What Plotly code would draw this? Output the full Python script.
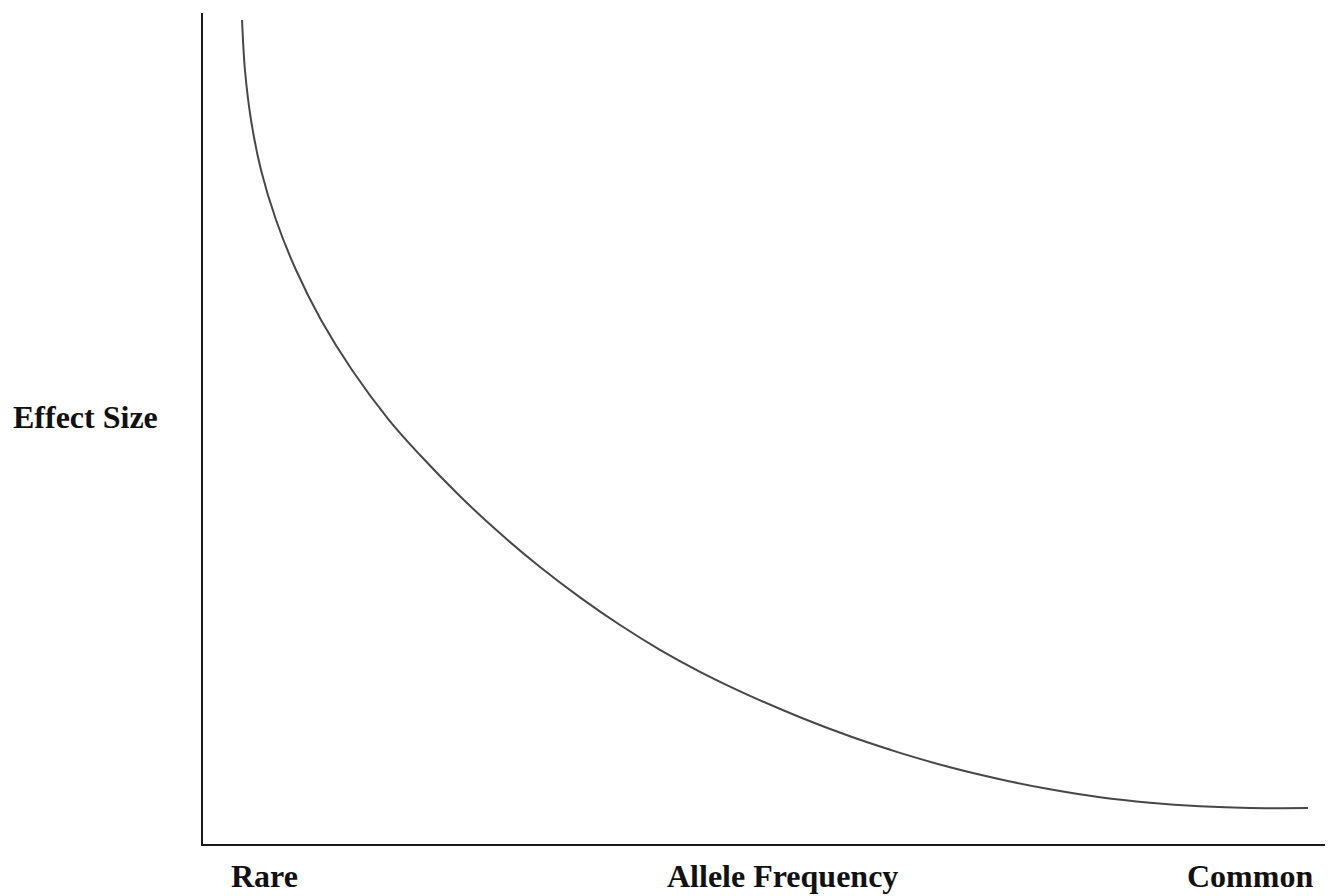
import plotly.graph_objects as go

# Curve (x: allele frequency, 0-100 relative; y: effect size, 0-100 relative)
freq = [3.48, 3.74, 4.28, 5.17, 6.51, 8.29, 10.52, 13.28, 16.58, 19.34, 22.91, 26.47,
        30.04, 33.60, 37.17, 40.73, 44.30, 48.75, 53.21, 57.66, 62.12, 66.58, 71.03,
        75.49, 79.95, 84.40, 88.86, 93.32, 98.48]
effect = [99.16, 93.14, 87.12, 81.11, 75.09, 69.07, 63.06, 57.04, 51.02, 46.81, 41.85, 37.38,
          33.33, 29.68, 26.35, 23.37, 20.72, 17.83, 15.25, 12.96, 10.97, 9.23, 7.79,
          6.58, 5.62, 4.96, 4.54, 4.33, 4.33]

x_labels = ["Rare", "Allele Frequency", "Common"]
y_label = "Effect Size"

# page body has an 8px margin; the figure is sized so it fits the 1334x896 window
OFF = 8
W, H = 1334 - OFF, 896 - OFF
PL, PR, PT, PB = 203, 1325, 13, 844       # plot area in page pixels
L, R, T, B = PL - OFF, (W + OFF) - PR, PT - OFF, (H + OFF) - PB
pw, ph = PR - PL, PB - PT

def px_x(p):
    return (p - PL) / pw

def px_y(p):
    return (PB - p) / ph

fig = go.Figure()
fig.add_trace(go.Scatter(x=freq, y=effect, mode="lines",
                         line=dict(color="#474747", width=2, shape="spline", smoothing=1.0),
                         hoverinfo="skip", showlegend=False))

font = dict(family="Liberation Serif, Times New Roman, serif", size=32, color="#111111")
ann = []
for txt, cx in zip(x_labels, [264, 782, 1250]):
    ann.append(dict(text="<b>%s</b>" % txt, x=px_x(cx), y=px_y(876), xref="paper", yref="paper",
                    xanchor="center", yanchor="middle", showarrow=False, font=font))
ann.append(dict(text="<b>%s</b>" % y_label, x=px_x(85), y=px_y(417), xref="paper", yref="paper",
                xanchor="center", yanchor="middle", showarrow=False, font=font))

fig.update_layout(
    width=W, height=H,
    margin=dict(l=L, r=R, t=T, b=B),
    paper_bgcolor="white", plot_bgcolor="white",
    annotations=ann,
    xaxis=dict(range=[0, 100], showline=True, linecolor="#1a1a1a", linewidth=2,
               showgrid=False, zeroline=False, showticklabels=False, ticks=""),
    yaxis=dict(range=[0, 100], showline=True, linecolor="#1a1a1a", linewidth=2,
               showgrid=False, zeroline=False, showticklabels=False, ticks=""),
)

fig.write_html("out.html")
